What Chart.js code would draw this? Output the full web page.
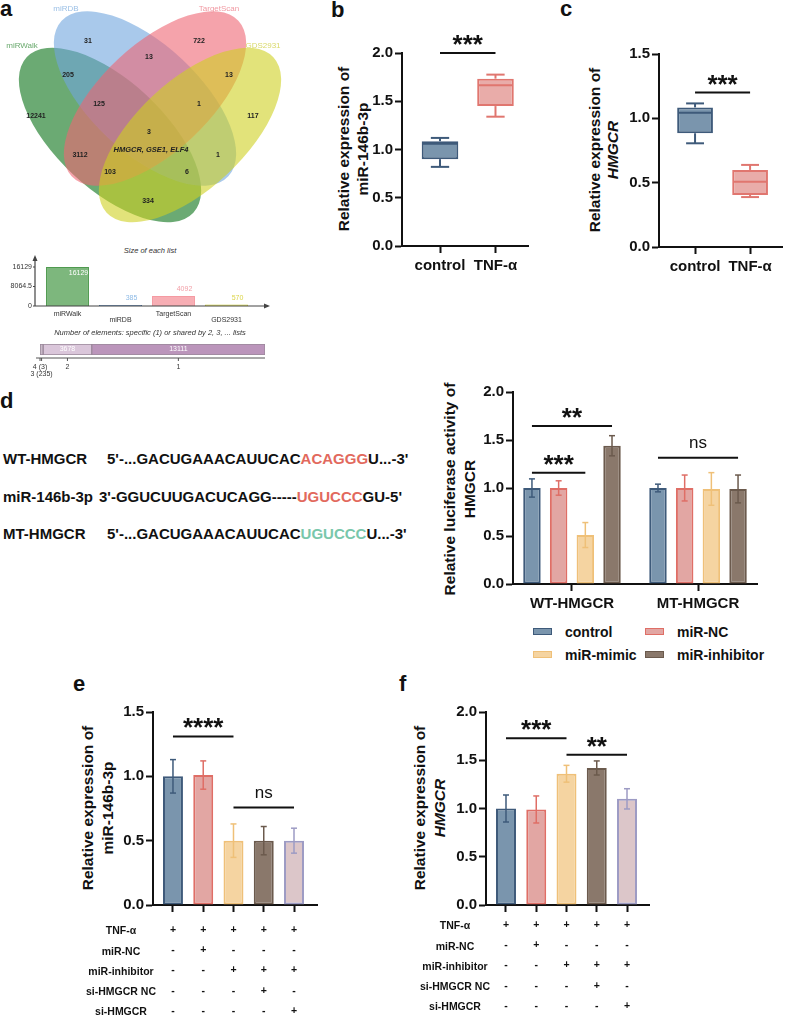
<!DOCTYPE html>
<html>
<head>
<meta charset="utf-8">
<script src="https://cdn.jsdelivr.net/npm/chart.js"></script>
<style>
body { margin: 0; width: 788px; height: 1015px; position: relative; overflow: hidden; background: #fff;
       font-family: "Liberation Sans", Arial, sans-serif; }
.t { position: absolute; white-space: nowrap; line-height: 1; }
canvas { position: absolute; }
</style>
</head>
<body>
<script>
// ---- data ----
const vennNames = ['miRWalk', 'miRDB', 'TargetScan', 'GDS2931']
const vennCounts = [31, 722, 13, 205, 13, 12241, 125, 1, 117, 3, 3112, 1, 103, 6, 334]
const vennShared = 'HMGCR, GSE1, ELF4'

const listNames = ['miRWalk', 'miRDB', 'TargetScan', 'GDS2931']
const listSizes = [16129, 385, 4092, 570]
const listTicks = [0, 8064.5, 16129]

const sharedLabels = ['4 (3)', '3 (235)', '2', '1']
const sharedCounts = [3, 235, 3678, 13111]

const boxGroups = ['control', 'TNF-α']
const mirLo = [0.82, 1.34]
const mirQ1 = [0.90, 1.45]
const mirMed = [1.06, 1.665]
const mirQ3 = [1.086, 1.734]
const mirHi = [1.12, 1.776]
const hmgLo = [0.806, 0.388]
const hmgQ1 = [0.884, 0.405]
const hmgMed = [1.043, 0.508]
const hmgQ3 = [1.085, 0.599]
const hmgHi = [1.116, 0.638]

const seqNames = ['WT-HMGCR', 'miR-146b-3p', 'MT-HMGCR']
const seqLeft = ["5'-...GACUGAAACAUUCAC", "3'-GGUCUUGACUCAGG-----", "5'-...GACUGAAACAUUCAC"]
const seqSite = ['ACAGGG', 'UGUCCC', 'UGUCCC']
const seqRight = ["U...-3'", "GU-5'", "U...-3'"]

const lucGroups = ['WT-HMGCR', 'MT-HMGCR']
const lucSeries = ['control', 'miR-NC', 'miR-mimic', 'miR-inhibitor']
const lucControl = [1.0, 1.0]
const lucNC = [1.0, 1.0]
const lucMimic = [0.51, 0.99]
const lucInhib = [1.44, 0.99]
const lucControlErr = [0.095, 0.04]
const lucNCErr = [0.075, 0.135]
const lucMimicErr = [0.13, 0.17]
const lucInhibErr = [0.105, 0.145]

const rescueRows = ['TNF-α', 'miR-NC', 'miR-inhibitor', 'si-HMGCR NC', 'si-HMGCR']
const rescueSigns = [['+', '-', '-', '-', '-'], ['+', '+', '-', '-', '-'], ['+', '-', '+', '-', '-'],
                     ['+', '-', '+', '+', '-'], ['+', '-', '+', '-', '+']]
const mirRescue = [1.0, 1.01, 0.50, 0.50, 0.50]
const mirRescueErr = [0.13, 0.11, 0.13, 0.11, 0.097]
const hmgRescue = [1.0, 0.99, 1.36, 1.42, 1.10]
const hmgRescueErr = [0.14, 0.14, 0.087, 0.073, 0.105]

// ---- styles ----
const FONT = '"Liberation Sans", Arial, sans-serif'
Chart.defaults.font.family = FONT
Chart.defaults.color = '#111'
const fills = ['#7a95ad', '#e2a6a3', '#f5d4a1', '#8a786b', '#dcc6c9']
const borders = ['#3e5a7a', '#df6e66', '#efc078', '#6b5a4d', '#9d9bc4']
const boxFill = ['#7a95ad', '#e9aca9']
const boxBorder = ['#3e5a7a', '#e0766f']

function label(html, x, y, size, o = {}) {
    const d = document.createElement('div')
    d.className = 't'
    d.innerHTML = html
    Object.assign(d.style, {
        left: x + 'px', top: y + 'px', fontSize: size + 'px',
        fontWeight: o.weight || 'bold', fontStyle: o.italic ? 'italic' : 'normal', color: o.color || '#111',
        transform: o.align === 'left' ? 'translate(0,-50%)' : 'translate(-50%,-50%)'
    })
    document.body.appendChild(d)
    return d
}
function yTitle(lines, x, y, lh) {
    const d = label(lines.join('<br>'), x, y, 15.5)
    d.style.lineHeight = lh + 'px'
    d.style.textAlign = 'center'
    d.style.transform = 'translate(-50%,-50%) rotate(-90deg)'
}
function makeCanvas(x, y, w, h) {
    const c = document.createElement('canvas')
    c.width = w
    c.height = h
    Object.assign(c.style, { left: x + 'px', top: y + 'px', width: w + 'px', height: h + 'px' })
    document.body.appendChild(c)
    return c
}
function line(ctx, x1, y1, x2, y2) {
    ctx.beginPath(); ctx.moveTo(x1, y1); ctx.lineTo(x2, y2); ctx.stroke()
}

// canvas placed so the plot area lands on the measured axes
function panel(ax, top, bot, right, yw, xh) {
    const pt = 40, pr = 8
    const w = Math.round(yw + (right - ax) + pr)
    const h = Math.round(pt + (bot - top) + xh)
    return { canvas: makeCanvas(ax - yw, top - pt, w, h), padding: { top: pt, right: pr, left: 0, bottom: 0 } }
}
function yAxis(max, yw) {
    return {
        min: 0, max: max,
        ticks: { stepSize: 0.5, padding: 2, color: '#111', font: { size: 15, weight: 'bold' }, callback: v => v.toFixed(1) },
        grid: { drawOnChartArea: false, tickLength: 7, tickWidth: 2, tickColor: '#111' },
        border: { display: true, color: '#111', width: 2 },
        afterFit: s => { s.width = yw }
    }
}
function xAxis(min, max, labels, xh, pad, font) {
    return {
        type: 'linear', min: min, max: max, offset: false,
        afterBuildTicks: s => { s.ticks = labels.map((l, i) => ({ value: i })) },
        ticks: { autoSkip: false, maxRotation: 0, padding: pad, color: '#111', font: font, callback: v => labels[v] },
        grid: { offset: false, drawOnChartArea: false, tickLength: 7, tickWidth: 2, tickColor: '#111' },
        border: { display: true, color: '#111', width: 2 },
        afterFit: s => { s.height = xh }
    }
}
const baseOpts = { responsive: false, animation: false, events: [], plugins: { legend: { display: false }, tooltip: { enabled: false } } }

function marks(cfg) {
    return {
        id: 'marks',
        afterDatasetsDraw(chart) {
            const ctx = chart.ctx, y = chart.scales.y
            ctx.save()
            if (cfg.box) {
                const b = cfg.box
                ctx.lineWidth = 2
                chart.getDatasetMeta(0).data.forEach((bar, i) => {
                    const hw = bar.width / 2
                    ctx.strokeStyle = b.color[i]
                    const pHi = y.getPixelForValue(b.hi[i]), pLo = y.getPixelForValue(b.lo[i])
                    const pQ1 = y.getPixelForValue(b.q1[i]), pQ3 = y.getPixelForValue(b.q3[i])
                    const pMed = y.getPixelForValue(b.med[i])
                    line(ctx, bar.x, pQ3, bar.x, pHi)
                    line(ctx, bar.x - hw / 2, pHi, bar.x + hw / 2, pHi)
                    line(ctx, bar.x, pQ1, bar.x, pLo)
                    line(ctx, bar.x - hw / 2, pLo, bar.x + hw / 2, pLo)
                    line(ctx, bar.x - hw + 1, pMed, bar.x + hw - 1, pMed)
                })
            }
            if (cfg.err) {
                ctx.lineWidth = 1.5
                cfg.err.forEach(([vals, errs], di) => {
                    const ds = chart.data.datasets[di]
                    chart.getDatasetMeta(di).data.forEach((bar, i) => {
                        ctx.strokeStyle = Array.isArray(ds.borderColor) ? ds.borderColor[i] : ds.borderColor
                        const t = y.getPixelForValue(vals[i] + errs[i]), bt = y.getPixelForValue(vals[i] - errs[i])
                        line(ctx, bar.x, t, bar.x, bt)
                        line(ctx, bar.x - 3, t, bar.x + 3, t)
                        line(ctx, bar.x - 3, bt, bar.x + 3, bt)
                    })
                })
            }
            ctx.restore()
        },
        afterDraw(chart) {
            if (!cfg.sig) return
            const ctx = chart.ctx, y = chart.scales.y
            ctx.save()
            ctx.strokeStyle = '#111'; ctx.fillStyle = '#111'; ctx.lineWidth = 2
            ctx.textAlign = 'center'; ctx.textBaseline = 'alphabetic'
            cfg.sig.forEach(s => {
                const a = chart.getDatasetMeta(s.from[0]).data[s.from[1]]
                const b = chart.getDatasetMeta(s.to[0]).data[s.to[1]]
                const py = y.getPixelForValue(s.y)
                line(ctx, a.x, py, b.x, py)
                const ns = s.text === 'ns'
                ctx.font = (ns ? 'normal 17px ' : 'bold 26px ') + FONT
                const m = ctx.measureText(s.text)
                const cy = py - (ns ? 14 : 13)
                ctx.fillText(s.text, (a.x + b.x) / 2, cy + (m.actualBoundingBoxAscent - m.actualBoundingBoxDescent) / 2)
            })
            ctx.restore()
        }
    }
}

// ---- panel letters ----
label('a', 0, 9.4, 22, { align: 'left' })
label('b', 331, 9.9, 22, { align: 'left' })
label('c', 560, 9.4, 22, { align: 'left' })
label('d', 0, 401.4, 22, { align: 'left' })
label('e', 73, 684.4, 22, { align: 'left' })
label('f', 399, 684.4, 22, { align: 'left' })

// ---- a: venn ----
const vennCenters = [[110, 135], [145, 98.5], [155, 98.5], [190, 135]]
const vennAngles = [43, 43, -43, -43]
const vennFill = ['rgba(8,113,22,0.6)', 'rgba(112,165,222,0.6)', 'rgba(238,102,115,0.6)', 'rgba(207,208,33,0.6)']
const vennNameColor = ['#6aaa6e', '#9cc0e6', '#f19aa3', '#d9d96a']
const vennNamePos = [[22, 46], [66, 9], [219, 9], [263, 46]]
const vennCountPos = [[88, 41], [199, 41], [149, 57], [68, 75], [229, 75], [36, 116], [99, 104], [199, 104],
                      [253, 116], [149, 132], [80, 155], [218, 155], [110, 172], [187, 172], [148, 201]]
const vennPlugin = {
    id: 'venn',
    afterDraw(chart) {
        const { ctx, scales: { x, y } } = chart
        const px = v => x.getPixelForValue(v), py = v => y.getPixelForValue(v)
        const ra = px(114) - px(0), rb = px(54) - px(0)
        ctx.save()
        vennCenters.forEach(([cx, cy], i) => {
            ctx.beginPath()
            ctx.ellipse(px(cx), py(cy), ra, rb, vennAngles[i] * Math.PI / 180, 0, Math.PI * 2)
            ctx.fillStyle = vennFill[i]
            ctx.fill()
        })
        ctx.textAlign = 'center'; ctx.textBaseline = 'middle'
        ctx.font = '8px ' + FONT
        vennNames.forEach((n, i) => {
            ctx.fillStyle = vennNameColor[i]
            ctx.fillText(n, px(vennNamePos[i][0]), py(vennNamePos[i][1]))
        })
        ctx.fillStyle = '#222'
        ctx.font = 'bold 7px ' + FONT
        vennCounts.forEach((c, i) => ctx.fillText(String(c), px(vennCountPos[i][0]), py(vennCountPos[i][1])))
        ctx.font = 'italic bold 7.5px ' + FONT
        ctx.fillText(vennShared, px(151), py(150))
        ctx.restore()
    }
}
new Chart(makeCanvas(0, 0, 330, 230), {
    type: 'scatter',
    data: { datasets: [{ data: [] }] },
    options: { ...baseOpts, layout: { padding: 0 },
        scales: { x: { type: 'linear', min: 0, max: 330, display: false },
                  y: { min: 0, max: 230, reverse: true, display: false } } },
    plugins: [vennPlugin]
})

// ---- a: size of each list ----
label('Size of each list', 150, 251, 7.5, { weight: 'normal', italic: true, color: '#333' })
const listFill = ['#7db77d', '#4a7ab0', '#f7aeb4', '#dede50']
const listBorder = ['#4f9a4f', '#3d6fa8', '#f59aa2', '#c8c830']
const listValColor = ['#ffffff', '#8fbbe6', '#f2a0a8', '#dcd54a']
const listDeco = {
    id: 'listDeco',
    afterDraw(chart) {
        const { ctx, chartArea: a, scales: { y } } = chart
        const ax = a.left - 6, ay = a.bottom
        ctx.save()
        ctx.strokeStyle = '#444'; ctx.fillStyle = '#444'; ctx.lineWidth = 1.2
        line(ctx, ax, ay, ax, a.top - 10)
        line(ctx, ax, ay, a.right + 15, ay)
        ctx.beginPath(); ctx.moveTo(ax, a.top - 12); ctx.lineTo(ax - 2.5, a.top - 6); ctx.lineTo(ax + 2.5, a.top - 6); ctx.fill()
        ctx.beginPath(); ctx.moveTo(a.right + 17, ay); ctx.lineTo(a.right + 11, ay - 2.5); ctx.lineTo(a.right + 11, ay + 2.5); ctx.fill()
        listTicks.forEach(v => line(ctx, ax - 2, y.getPixelForValue(v), ax, y.getPixelForValue(v)))
        ctx.font = '7px ' + FONT; ctx.textAlign = 'center'; ctx.textBaseline = 'middle'
        chart.getDatasetMeta(0).data.forEach((bar, i) => {
            const inside = bar.base - bar.y > 30
            ctx.fillStyle = listValColor[i]
            ctx.fillText(String(listSizes[i]), bar.x + 11, inside ? bar.y + 6 : bar.y - 7)
        })
        ctx.restore()
    }
}
new Chart(makeCanvas(0, 250, 280, 80), {
    type: 'bar',
    data: { labels: listNames.map((n, i) => i % 2 ? ['', n] : n),
            datasets: [{ data: listSizes, backgroundColor: listFill, borderColor: listBorder, borderWidth: 1,
                         categoryPercentage: 1, barPercentage: 0.81 }] },
    options: { ...baseOpts, layout: { padding: { top: 17, right: 27, left: 0, bottom: 0 } },
        scales: {
            x: { grid: { display: false, drawTicks: false }, border: { display: false },
                 ticks: { autoSkip: false, maxRotation: 0, padding: 5, color: '#333', font: { size: 7, lineHeight: 0.86 } },
                 afterFit: s => { s.height = 24 } },
            y: { min: 0, max: 16129, afterBuildTicks: s => { s.ticks = listTicks.map(v => ({ value: v })) },
                 grid: { display: false, drawTicks: false }, border: { display: false },
                 ticks: { padding: 9, color: '#333', font: { size: 7 }, callback: v => String(v) },
                 afterFit: s => { s.width = 41 } } } },
    plugins: [listDeco]
})

// ---- a: shared elements ----
label('Number of elements: specific (1) or shared by 2, 3, ... lists', 150, 333, 7.5, { weight: 'normal', italic: true, color: '#333' })
const sharedFill = ['#9a9a9a', '#c9b9c9', '#dac6da', '#bb95bb']
const sharedTotal = sharedCounts.reduce((s, v) => s + v, 0)
const sharedCenters = sharedCounts.map((c, i) => sharedCounts.slice(0, i).reduce((s, v) => s + v, 0) + c / 2)
const sharedDeco = {
    id: 'sharedDeco',
    afterDraw(chart) {
        const { ctx, chartArea: a, scales: { x } } = chart
        ctx.save()
        ctx.strokeStyle = '#555'; ctx.lineWidth = 1
        line(ctx, a.left - 4, a.bottom + 3, a.right, a.bottom + 3)
        sharedCenters.forEach(v => line(ctx, x.getPixelForValue(v), a.bottom + 3, x.getPixelForValue(v), a.bottom + 6))
        ctx.fillStyle = '#fff'; ctx.font = '7px ' + FONT; ctx.textAlign = 'center'; ctx.textBaseline = 'middle'
        chart.data.datasets.forEach((ds, i) => {
            const bar = chart.getDatasetMeta(i).data[0]
            if (Math.abs(bar.x - bar.base) > 25) ctx.fillText(String(sharedCounts[i]), (bar.x + bar.base) / 2, bar.y)
        })
        ctx.restore()
    }
}
new Chart(makeCanvas(0, 338, 300, 45), {
    type: 'bar',
    data: { labels: [''], datasets: sharedCounts.map((c, i) => ({ data: [c], backgroundColor: sharedFill[i], borderColor: '#9a889a',
             borderWidth: 1, borderSkipped: false, barPercentage: 1, categoryPercentage: 1 })) },
    options: { ...baseOpts, indexAxis: 'y', layout: { padding: { top: 6, left: 40, right: 35, bottom: 0 } },
        scales: {
            x: { stacked: true, min: 0, max: sharedTotal,
                 afterBuildTicks: s => { s.ticks = sharedCenters.map(v => ({ value: v })) },
                 grid: { display: false, drawTicks: false }, border: { display: false },
                 ticks: { autoSkip: false, maxRotation: 0, padding: 8.5, color: '#333', font: { size: 7, lineHeight: 1 },
                          callback: (v, i) => i === 1 ? ['', sharedLabels[i]] : sharedLabels[i] },
                 afterFit: s => { s.height = 28 } },
            y: { stacked: true, display: false } } },
    plugins: [sharedDeco]
})

// ---- b: miR-146b-3p box plot ----
yTitle(['Relative expression of', 'miR-146b-3p'], 352.5, 149, 19)
{
    const p = panel(402, 53.3, 246.7, 528, 60, 40)
    new Chart(p.canvas, {
        type: 'bar',
        data: { datasets: [{ data: boxGroups.map((g, i) => ({ x: i, y: [mirQ1[i], mirQ3[i]] })),
                 backgroundColor: boxFill, borderColor: boxBorder, borderWidth: 2, borderSkipped: false,
                 categoryPercentage: 1, barPercentage: 0.66 }] },
        options: { ...baseOpts, layout: { padding: p.padding },
            scales: { x: xAxis(-0.685, 1.586, boxGroups, 40, 4, { size: 15, weight: 'bold' }), y: yAxis(2, 60) } },
        plugins: [marks({ box: { lo: mirLo, q1: mirQ1, med: mirMed, q3: mirQ3, hi: mirHi, color: boxBorder },
                          sig: [{ from: [0, 0], to: [0, 1], y: 2.0, text: '***' }] })]
    })
}

// ---- c: HMGCR box plot ----
yTitle(['Relative expression of', '<i>HMGCR</i>'], 604, 150, 18)
{
    const p = panel(659, 54, 247.3, 782, 60, 40)
    new Chart(p.canvas, {
        type: 'bar',
        data: { datasets: [{ data: boxGroups.map((g, i) => ({ x: i, y: [hmgQ1[i], hmgQ3[i]] })),
                 backgroundColor: boxFill, borderColor: boxBorder, borderWidth: 2, borderSkipped: false,
                 categoryPercentage: 1, barPercentage: 0.65 }] },
        options: { ...baseOpts, layout: { padding: p.padding },
            scales: { x: xAxis(-0.655, 1.58, boxGroups, 40, 4, { size: 15, weight: 'bold' }), y: yAxis(1.5, 60) } },
        plugins: [marks({ box: { lo: hmgLo, q1: hmgQ1, med: hmgMed, q3: hmgQ3, hi: hmgHi, color: boxBorder },
                          sig: [{ from: [0, 0], to: [0, 1], y: 1.2, text: '***' }] })]
    })
}

// ---- d: sequences ----
const seqY = [458, 496, 533]
const seqX = [107, 99, 107]
const seqColor = ['#e2695d', '#e2695d', '#79c7ab']
seqNames.forEach((n, i) => {
    label(n, 3, seqY[i], 15, { align: 'left' })
    label(seqLeft[i] + '<span style="color:' + seqColor[i] + '">' + seqSite[i] + '</span>' + seqRight[i],
          seqX[i], seqY[i], 15, { align: 'left' })
})

// ---- d: luciferase ----
yTitle(['Relative luciferase activity of', 'HMGCR'], 460, 489, 20)
{
    const p = panel(513, 391.7, 583.3, 757, 60, 40)
    const series = [lucControl, lucNC, lucMimic, lucInhib]
    const errs = [lucControlErr, lucNCErr, lucMimicErr, lucInhibErr]
    new Chart(p.canvas, {
        type: 'bar',
        data: { datasets: series.map((vals, k) => ({ label: lucSeries[k], data: vals.map((v, i) => ({ x: i, y: v })),
                 backgroundColor: fills[k], borderColor: borders[k], borderWidth: 2, borderSkipped: false,
                 categoryPercentage: 0.847, barPercentage: 0.655 })) },
        options: { ...baseOpts, layout: { padding: p.padding },
            scales: { x: xAxis(-0.468, 1.468, lucGroups, 40, 4, { size: 15, weight: 'bold' }), y: yAxis(2, 60) } },
        plugins: [marks({ err: series.map((s, k) => [s, errs[k]]),
                          sig: [{ from: [0, 0], to: [2, 0], y: 1.16, text: '***' },
                                { from: [0, 0], to: [3, 0], y: 1.645, text: '**' },
                                { from: [0, 1], to: [3, 1], y: 1.316, text: 'ns' }] })]
    })
}
// legend
const legX = [533, 645], legY = [632, 655]
lucSeries.forEach((n, k) => {
    const x = legX[k % 2], y = legY[Math.floor(k / 2)]
    const sw = document.createElement('div')
    Object.assign(sw.style, { position: 'absolute', left: x + 'px', top: (y - 4) + 'px', width: '17px', height: '5px',
        background: fills[k], border: '1.5px solid ' + borders[k] })
    document.body.appendChild(sw)
    label(n, x + 32, y, 14, { align: 'left' })
})

// ---- e: miR-146b-3p rescue ----
yTitle(['Relative expression of', 'miR-146b-3p'], 98, 808, 20)
{
    const p = panel(153, 712.3, 905, 317, 60, 115)
    new Chart(p.canvas, {
        type: 'bar',
        data: { datasets: [{ data: mirRescue.map((v, i) => ({ x: i, y: v })), backgroundColor: fills, borderColor: borders,
                 borderWidth: 2, borderSkipped: false, categoryPercentage: 1, barPercentage: 0.66 }] },
        options: { ...baseOpts, layout: { padding: p.padding },
            scales: { x: xAxis(-0.66, 4.76, rescueSigns, 115, 7.9, { size: 10.5, weight: 'bold', lineHeight: 1.929 }),
                      y: yAxis(1.5, 60) } },
        plugins: [marks({ err: [[mirRescue, mirRescueErr]],
                          sig: [{ from: [0, 0], to: [0, 2], y: 1.31, text: '****' },
                                { from: [0, 2], to: [0, 4], y: 0.757, text: 'ns' }] })]
    })
}
const eRowY = [930, 951, 971, 991, 1011]
rescueRows.forEach((r, i) => label(r, 121, eRowY[i], 10.5))

// ---- f: HMGCR rescue ----
yTitle(['Relative expression of', '<i>HMGCR</i>'], 430, 808, 20)
{
    const p = panel(486, 712.3, 905, 649, 60, 115)
    new Chart(p.canvas, {
        type: 'bar',
        data: { datasets: [{ data: hmgRescue.map((v, i) => ({ x: i, y: v })), backgroundColor: fills, borderColor: borders,
                 borderWidth: 2, borderSkipped: false, categoryPercentage: 1, barPercentage: 0.66 }] },
        options: { ...baseOpts, layout: { padding: p.padding },
            scales: { x: xAxis(-0.661, 4.727, rescueSigns, 115, 2.9, { size: 10.5, weight: 'bold', lineHeight: 1.929 }),
                      y: yAxis(2, 60) } },
        plugins: [marks({ err: [[hmgRescue, hmgRescueErr]],
                          sig: [{ from: [0, 0], to: [0, 2], y: 1.727, text: '***' },
                                { from: [0, 2], to: [0, 4], y: 1.557, text: '**' }] })]
    })
}
const fRowY = [925, 946, 966, 986, 1006]
rescueRows.forEach((r, i) => label(r, 455, fRowY[i], 10.5))
</script>
</body>
</html>
